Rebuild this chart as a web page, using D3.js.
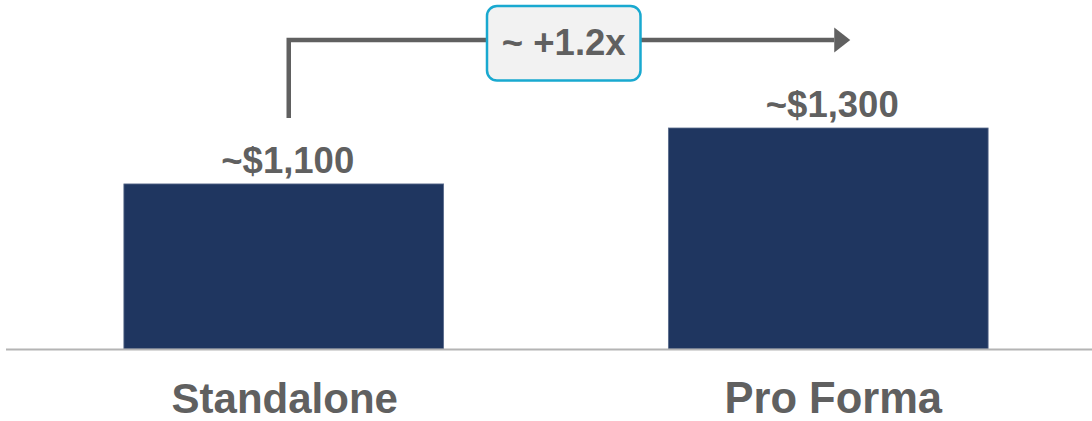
<!DOCTYPE html>
<html>
<head>
<meta charset="utf-8">
<script src="https://cdn.jsdelivr.net/npm/d3@7"></script>
<style>
  html, body { margin: 0; padding: 0; background: #ffffff; }
  svg { display: block; }
  text { font-family: "Liberation Sans", Arial, sans-serif; font-weight: bold; fill: #606060; }
</style>
</head>
<body>
<svg id="chart" width="1092" height="421"></svg>
<script>
// Chart data
const categories = ["Standalone", "Pro Forma"];
const values = [1100, 1300];
const valueLabels = ["~$1,100", "~$1,300"];
const multipleLabel = "~ +1.2x";

const svg = d3.select("#chart");
const W = 1092, H = 421;
const baseY = 349;

const x = d3.scaleBand()
  .domain(categories)
  .range([11.5, 1100.5])
  .paddingInner(0.4128)
  .paddingOuter(0.2064);

const y = d3.scaleLinear()
  .domain([510, 1300])
  .range([baseY, 128]);

// Bars
svg.selectAll("rect.bar")
  .data(categories)
  .join("rect")
  .attr("class", "bar")
  .attr("x", d => x(d))
  .attr("y", (d, i) => y(values[i]))
  .attr("width", x.bandwidth())
  .attr("height", (d, i) => baseY - y(values[i]))
  .attr("fill", "#1f3660")
  .attr("stroke", "#5a6b8c")
  .attr("stroke-width", 0.8);

// Baseline
svg.append("line")
  .attr("x1", 6).attr("x2", W)
  .attr("y1", baseY + 0.5).attr("y2", baseY + 0.5)
  .attr("stroke", "#b4b4b4")
  .attr("stroke-width", 2);

// Value labels
svg.selectAll("text.value")
  .data(categories)
  .join("text")
  .attr("class", "value")
  .attr("x", d => x(d) + x.bandwidth() / 2 + 4)
  .attr("y", (d, i) => y(values[i]) - 11)
  .attr("text-anchor", "middle")
  .style("font-size", "36.5px")
  .text((d, i) => valueLabels[i]);

// Category labels
svg.selectAll("text.cat")
  .data(categories)
  .join("text")
  .attr("class", "cat")
  .attr("x", (d, i) => x(d) + x.bandwidth() / 2 + (i === 0 ? 1 : 5))
  .attr("y", 413)
  .attr("text-anchor", "middle")
  .style("font-size", (d, i) => i === 0 ? "42px" : "43.5px")
  .text(d => d);

// Growth bracket with arrow
const x0 = x(categories[0]) + x.bandwidth() / 2 + 5;
const x1 = x(categories[1]) + x.bandwidth() / 2 + 6;
const topY = 40;

svg.append("path")
  .attr("d", `M${x0},118 V${topY} H${x1}`)
  .attr("fill", "none")
  .attr("stroke", "#606060")
  .attr("stroke-width", 4.5);

svg.append("path")
  .attr("d", `M${x1},${topY - 12.5} L${x1 + 16},${topY} L${x1},${topY + 12.5} Z`)
  .attr("fill", "#606060");

// Multiple callout box
const boxX = 487, boxY = 6, boxW = 153.5, boxH = 74.5;
svg.append("rect")
  .attr("x", boxX).attr("y", boxY)
  .attr("width", boxW).attr("height", boxH)
  .attr("rx", 10).attr("ry", 10)
  .attr("fill", "#f2f2f2")
  .attr("stroke", "#19a9d0")
  .attr("stroke-width", 2.5);

svg.append("text")
  .attr("x", boxX + boxW / 2)
  .attr("y", 55)
  .attr("text-anchor", "middle")
  .style("font-size", "36.5px")
  .text(multipleLabel);
</script>
</body>
</html>
